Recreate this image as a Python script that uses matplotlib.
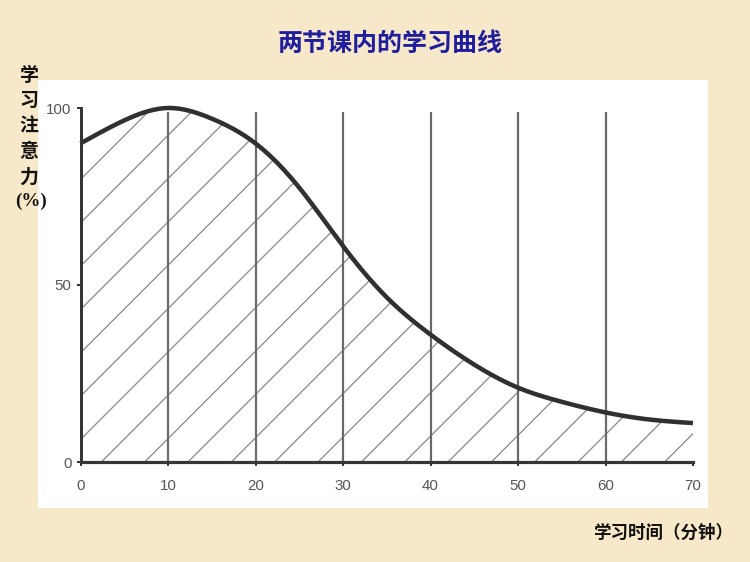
import matplotlib
matplotlib.use("Agg")
import matplotlib.pyplot as plt
from matplotlib.patches import Rectangle
import numpy as np

plt.rcParams['font.family'] = ['Noto Sans CJK SC', 'DejaVu Sans']

# ---- data ----
title = "两节课内的学习曲线"
ylabel_chars = ["学", "习", "注", "意", "力"]
ylabel_unit = "(%)"
xlabel = "学习时间（分钟）"
minutes = [0, 5, 10, 15, 20, 25, 30, 35, 40, 45, 50, 55, 60, 65, 70]
attention = [90, 96.5, 100, 97, 90, 77.5, 61, 46.5, 36, 27.5, 21, 17, 14, 12, 11]
x_ticks = [0, 10, 20, 30, 40, 50, 60, 70]
y_ticks = [0, 50, 100]
grid_x = [10, 20, 30, 40, 50, 60]
grid_top = 99

# ---- figure setup ----
DPI = 260
W, H = 750, 562
def pt(px):
    return px * 72.0 / DPI
def fx(px):
    return px / W
def fy(py):
    return 1 - py / H

plt.rcParams['hatch.linewidth'] = pt(1.3)

bg = '#F6E8C8'
fig = plt.figure(figsize=(W / DPI, H / DPI), dpi=DPI, facecolor=bg)

# white panel
fig.patches.append(Rectangle((fx(38), fy(508)), fx(708) - fx(38), fy(80) - fy(508),
                             transform=fig.transFigure, facecolor='white',
                             edgecolor='none', zorder=-5))

ax_left, ax_right = 80.5, 693
ax_bottom, ax_top = 462, 108
ax = fig.add_axes([fx(ax_left), fy(ax_bottom), fx(ax_right) - fx(ax_left), fy(ax_top) - fy(ax_bottom)])
ax.set_zorder(5)
ax.set_facecolor('none')
ax.set_xlim(0, 70)
ax.set_ylim(0, 100)

# smooth curve through the read points (natural cubic spline)
xs = np.array(minutes, dtype=float)
ys = np.array(attention, dtype=float)
def natural_spline(x, y, xq):
    n = len(x)
    h = np.diff(x)
    A = np.zeros((n, n))
    b = np.zeros(n)
    A[0, 0] = 1
    A[-1, -1] = 1
    for i in range(1, n - 1):
        A[i, i - 1] = h[i - 1]
        A[i, i] = 2 * (h[i - 1] + h[i])
        A[i, i + 1] = h[i]
        b[i] = 6 * ((y[i + 1] - y[i]) / h[i] - (y[i] - y[i - 1]) / h[i - 1])
    M = np.linalg.solve(A, b)
    idx = np.clip(np.searchsorted(x, xq, side='right') - 1, 0, n - 2)
    x0, x1 = x[idx], x[idx + 1]
    hh = x1 - x0
    a = (x1 - xq) / hh
    c = (xq - x0) / hh
    return (a * y[idx] + c * y[idx + 1]
            + ((a**3 - a) * M[idx] + (c**3 - c) * M[idx + 1]) * hh**2 / 6)
xf = np.linspace(xs[0], xs[-1], 500)
yf = natural_spline(xs, ys, xf)

# hatched area
ax.fill_between(xf, 0, yf, facecolor='none', edgecolor='#8c8c8c', hatch='//',
                linewidth=0, zorder=1)

# vertical lines
ax.vlines(grid_x, 0, grid_top, colors='#6a6a6a', linewidth=pt(2.2), zorder=2)

# curve
ax.plot(xf, yf, color='#303030', linewidth=pt(4.5), solid_capstyle='butt',
        zorder=3, clip_on=False)

# spines
for s in ['top', 'right']:
    ax.spines[s].set_visible(False)
ax.spines['left'].set_bounds(0, 100)
ax.spines['left'].set_linewidth(pt(3))
ax.spines['left'].set_color('#353535')
ax.spines['bottom'].set_linewidth(pt(3.2))
ax.spines['bottom'].set_color('#353535')
ax.spines['left'].set_zorder(4)
ax.spines['bottom'].set_zorder(4)

ax.set_xticks(x_ticks)
ax.set_yticks(y_ticks)
ax.tick_params(axis='both', direction='out', length=pt(4), width=pt(2), color='#353535',
               labelcolor='#555555', labelsize=pt(15))
ax.tick_params(axis='x', pad=pt(13))
ax.tick_params(axis='y', pad=pt(5))
for lab in ax.get_xticklabels() + ax.get_yticklabels():
    lab.set_family(['Liberation Sans', 'DejaVu Sans'])

# title
fig.text(fx(390), fy(44), title, ha='center', va='center', color='#1E1E9E',
         fontsize=pt(25), fontweight='bold')

# y label stacked
for i, ch in enumerate(ylabel_chars):
    fig.text(fx(29), fy(75 + 25.5 * i), ch, ha='center', va='center', color='#111111',
             fontsize=pt(19), fontweight='bold')
fig.text(fx(31), fy(201), ylabel_unit, ha='center', va='center', color='#111111',
         fontsize=pt(19), fontweight='bold', family=['Liberation Serif', 'DejaVu Serif'])

# x label
fig.text(fx(663), fy(533), xlabel, ha='center', va='center', color='#111111',
         fontsize=pt(17.5), fontweight='bold')

fig.savefig('out.png', dpi=DPI, facecolor=bg)
